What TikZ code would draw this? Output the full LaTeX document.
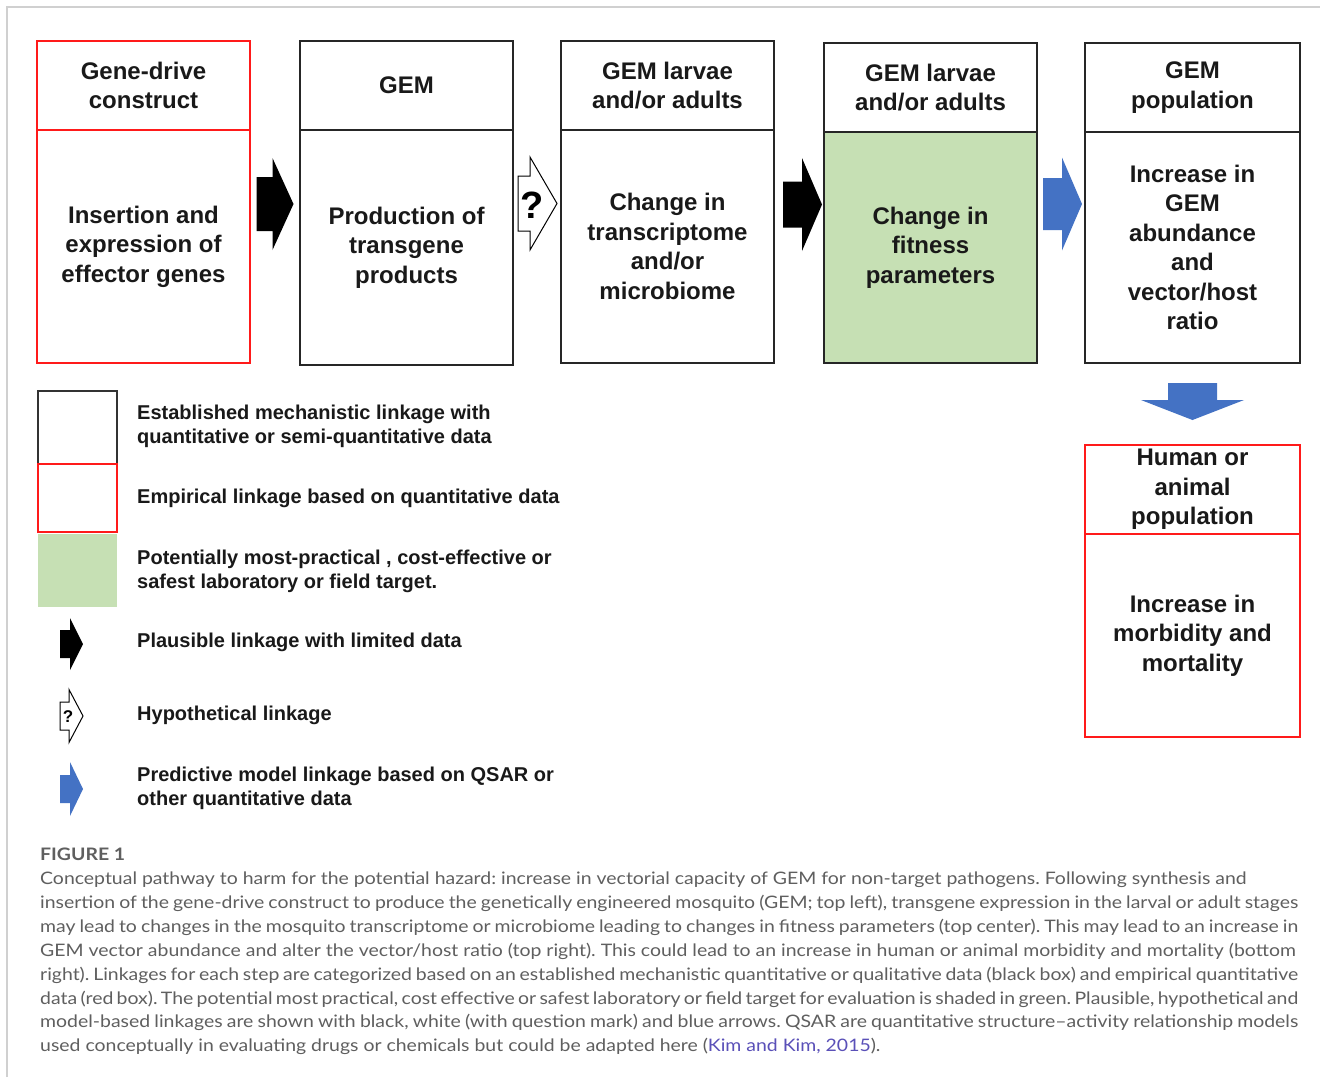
\documentclass[tikz,border=0pt]{standalone}
\usepackage{fontspec}
\setmainfont{Liberation Sans}
\newfontfamily\capfont[FakeStretch=1.13]{Lato}
\usetikzlibrary{calc}
\definecolor{gemgreen}{HTML}{C6E0B4}
\definecolor{gemblue}{HTML}{4472C4}
\definecolor{gemred}{HTML}{FF1A1A}
\definecolor{capgray}{HTML}{5F5F5F}
\definecolor{linkcol}{HTML}{5A50B8}
\definecolor{framegray}{HTML}{D0D0D0}
\tikzset{
  boxtext/.style={font=\fontsize{24}{29.5}\selectfont\bfseries, align=center, text=black!90},
  hdr/.style={boxtext, draw=black!85, line width=2pt, minimum width=213pt, minimum height=89pt, inner sep=0pt},
  bdy/.style={boxtext, draw=black!85, line width=2pt, minimum width=213pt, inner sep=0pt},
  redb/.style={draw=gemred},
  legtext/.style={font=\fontsize{20}{24}\selectfont\bfseries, align=left, anchor=west, inner sep=0pt, text=black!90},
  captext/.style={font=\capfont\fontsize{17.2}{24}\selectfont\frenchspacing, text=capgray, anchor=base west, inner sep=0pt},
  pics/harrow/.style n args={4}{code={
    \path[pic actions] (0,-#3) -- (#2,-#3) -- (#2,-#4) -- (#1,0) -- (#2,#4) -- (#2,#3) -- (0,#3) -- cycle;
  }},
}
\begin{document}
\begin{tikzpicture}[x=1pt,y=-1pt]
\useasboundingbox (0,0) rectangle (1329,1077);
\fill[white] (0,0) rectangle (1329,1077);
% frame
\draw[framegray, line width=1.5pt] (7,1077) -- (7,7) -- (1320,7);

% column 1
\node[hdr, redb] (h1) at (143.5,85.5) {Gene-drive\\construct};
\node[bdy, redb, minimum height=233pt] (b1) at (143.5,246.5) {Insertion and\\expression of\\effector genes};
% column 2
\node[hdr] (h2) at (406.5,85.5) {GEM};
\node[bdy, minimum height=235pt] (b2) at (406.5,247.5) {Production of\\transgene\\products};
% column 3
\node[hdr] (h3) at (667.5,85.5) {GEM larvae\\and/or adults};
\node[bdy, minimum height=233pt] (b3) at (667.5,246.5) {Change in\\transcriptome\\and/or\\microbiome};
% column 4
\node[hdr] (h4) at (930.5,87.5) {GEM larvae\\and/or adults};
\node[bdy, fill=gemgreen, minimum height=231pt] (b4) at (930.5,247.5) {Change in\\fitness\\parameters};
% column 5
\node[hdr, minimum width=215pt] (h5) at (1192.5,87.5) {GEM\\population};
\node[bdy, minimum width=215pt, minimum height=231pt] (b5) at (1192.5,247.5) {Increase in\\GEM\\abundance\\and\\vector/host\\ratio};
% human
\node[hdr, redb, minimum width=215pt] (h6) at (1192.5,489.5) {Human or\\animal\\population};
\node[bdy, redb, minimum width=215pt, minimum height=203pt] (b6) at (1192.5,635.5) {Increase in\\morbidity and\\mortality};

% connectors (block arrows)
\coordinate (a1) at ($(b1.east)!0.5!(b2.west)+(-18.5,-43)$);
\coordinate (a2) at ($(b2.east)!0.5!(b3.west)+(-19,-43.5)$);
\coordinate (a3) at ($(b3.east)!0.5!(b4.west)+(-16,-42.5)$);
\coordinate (a4) at ($(b4.east)!0.5!(b5.west)+(-18,-43.5)$);
\coordinate (a5) at ($(b5.south)!0.5!(h6.north)+(0,-21)$);
\pic[fill=black] at (a1) {harrow={37}{16}{27}{46}};
\pic[draw=black, fill=white, line width=1pt] at (a2) {harrow={39}{12}{27.5}{46.5}};
\node[font=\fontsize{38}{38}\selectfont\bfseries, inner sep=0pt] (q1) at ($(a2)+(14,2)$) {?};
\pic[fill=black] at (a3) {harrow={39}{19}{23}{46.5}};
\pic[fill=gemblue] at (a4) {harrow={39}{19}{26}{46.5}};
\pic[fill=gemblue, rotate=-90] at (a5) {harrow={37}{17}{24.5}{51.5}};

% legend
\draw[black!80, line width=2.5pt] (38,391) rectangle (117,464);
\draw[gemred, line width=2pt] (38,464) rectangle (117,532);
\fill[gemgreen] (38,534) rectangle (117,607);
\node[legtext] (l1) at (137,426) {Established mechanistic linkage with\\quantitative or semi-quantitative data};
\node[legtext] (l2) at (137,498) {Empirical linkage based on quantitative data};
\node[legtext] (l3) at (137,571) {Potentially most-practical , cost-effective or\\safest laboratory or field target.};
\node[legtext] (l4) at (137,642) {Plausible linkage with limited data};
\node[legtext] (l5) at (137,715) {Hypothetical linkage};
\node[legtext] (l6) at (137,788) {Predictive model linkage based on QSAR or\\other quantitative data};
\pic[fill=black] at (60,644) {harrow={23}{10}{14}{26}};
\pic[draw=black, fill=white, line width=1pt] at (60,716) {harrow={23}{9}{14}{26.5}};
\node[font=\fontsize{17}{17}\selectfont\bfseries, inner sep=0pt] (q2) at (68,717) {?};
\pic[fill=gemblue] at (60,789) {harrow={23}{10}{14}{27}};

% caption
\node[captext, font=\capfont\fontsize{17.2}{24}\selectfont\bfseries] (fig) at (40,860) {FIGURE 1};
\node[captext] (c1) at (40,884) {Conceptual pathway to harm for the potential hazard: increase in vectorial capacity of GEM for non-target pathogens. Following synthesis and};
\node[captext] (c2) at (40,908) {\makebox[1258pt][s]{insertion of the gene-drive construct to produce the genetically engineered mosquito (GEM; top left), transgene expression in the larval or adult stages}};
\node[captext] (c3) at (40,932) {\makebox[1258pt][s]{may lead to changes in the mosquito transcriptome or microbiome leading to changes in fitness parameters (top center). This may lead to an increase in}};
\node[captext] (c4) at (40,956) {GEM vector abundance and alter the vector/host ratio (top right). This could lead to an increase in human or animal morbidity and mortality (bottom};
\node[captext] (c5) at (40,980) {\makebox[1258pt][s]{right). Linkages for each step are categorized based on an established mechanistic quantitative or qualitative data (black box) and empirical quantitative}};
\node[captext] (c6) at (40,1004) {\makebox[1258pt][s]{data (red box). The potential most practical, cost effective or safest laboratory or field target for evaluation is shaded in green. Plausible, hypothetical and}};
\node[captext] (c7) at (40,1027) {\makebox[1258pt][s]{model-based linkages are shown with black, white (with question mark) and blue arrows. QSAR are quantitative structure–activity relationship models}};
\node[captext] (c8) at (40,1051) {used conceptually in evaluating drugs or chemicals but could be adapted here ({\color{linkcol}Kim and Kim, 2015}).};
\end{tikzpicture}
\end{document}
